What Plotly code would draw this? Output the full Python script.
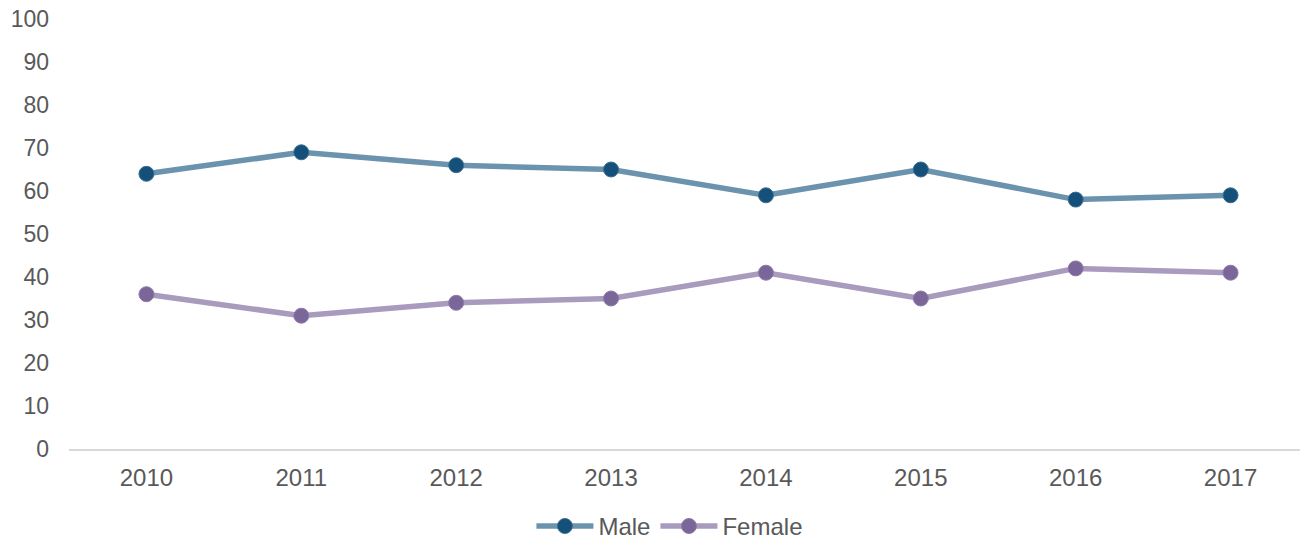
import plotly.graph_objects as go

years = ["2010", "2011", "2012", "2013", "2014", "2015", "2016", "2017"]
male = [64, 69, 66, 65, 59, 65, 58, 59]
female = [36, 31, 34, 35, 41, 35, 42, 41]
y_ticks = [0, 10, 20, 30, 40, 50, 60, 70, 80, 90, 100]

fig = go.Figure()
fig.add_trace(go.Scatter(
    x=years, y=male, name="Male", mode="lines+markers",
    line=dict(color="#6b93ad", width=5.5),
    marker=dict(color="#14507a", size=15, line=dict(color="#3c6e91", width=1)),
))
fig.add_trace(go.Scatter(
    x=years, y=female, name="Female", mode="lines+markers",
    line=dict(color="#a89bbd", width=5.5),
    marker=dict(color="#7b6699", size=15, line=dict(color="#8d7aa9", width=1)),
))

fig.update_layout(
    width=1300, height=532,
    margin=dict(l=61, r=0, t=11, b=91, autoexpand=False),
    plot_bgcolor="white", paper_bgcolor="white",
    font=dict(family="Liberation Sans, Arial", size=23, color="#595959"),
    showlegend=True,
    legend=dict(orientation="h", x=0.485, xanchor="center", y=-0.18, yanchor="middle",
                font=dict(size=24, color="#595959"), itemwidth=57, tracegroupgap=0),
    xaxis=dict(type="category", range=[-0.5, 7.5], showgrid=False, automargin=False,
               showline=True, linecolor="#d9d9d9", linewidth=2,
               ticks="", ticklabelstandoff=6, tickfont=dict(size=24), zeroline=False),
    yaxis=dict(range=[0, 100], tickvals=y_ticks, showgrid=False, zeroline=False, automargin=False,
               showline=False, ticks="", ticklabelstandoff=19, tickfont=dict(size=23),
               ticklabeloverflow="allow"),
)

fig.write_html("out.html")
